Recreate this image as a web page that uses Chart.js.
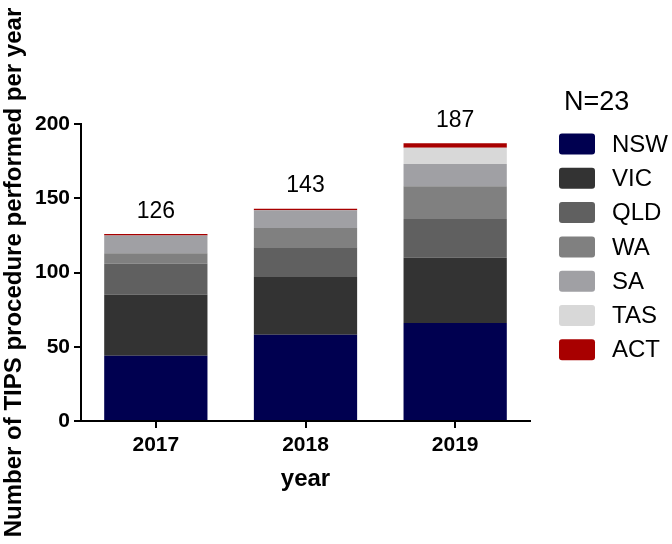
<!DOCTYPE html>
<html>
<head>
<meta charset="utf-8">
<script src="https://cdn.jsdelivr.net/npm/chart.js@4"></script>
<style>
  html, body { margin: 0; padding: 0; background: #fff; }
  #wrap { width: 672px; height: 544px; }
</style>
</head>
<body>
<div id="wrap"><canvas id="tipsChart" width="672" height="544"></canvas></div>
<script>
const years = ["2017", "2018", "2019"];
const states = ["NSW", "VIC", "QLD", "WA", "SA", "TAS", "ACT"];
const nsw = [44, 58, 66];
const vic = [41, 39, 44];
const qld = [21, 20, 26];
const wa = [7, 13, 22];
const sa = [12, 12, 15];
const tas = [0, 0, 11];
const act = [1, 1, 3];
const yTicks = [0, 50, 100, 150, 200];
const legendTitle = "N=23";

const colors = ["#000050", "#333333", "#606060", "#808080", "#a0a0a4", "#d8d8d8", "#a80000"];
const seriesValues = [nsw, vic, qld, wa, sa, tas, act];
const FONT = "'Liberation Sans', Arial, sans-serif";

// totals over the bars + the right hand legend
const extras = {
  id: "extras",
  afterDatasetsDraw(chart) {
    const ctx = chart.ctx;
    const x = chart.scales.x, y = chart.scales.y;
    ctx.save();
    ctx.fillStyle = "#000";
    ctx.font = "23px " + FONT;
    ctx.textAlign = "center";
    ctx.textBaseline = "bottom";
    years.forEach((yr, i) => {
      let total = 0;
      chart.data.datasets.forEach(ds => { total += ds.data[i]; });
      ctx.fillText(String(total), x.getPixelForValue(i), y.getPixelForValue(total) - 11);
    });

    ctx.textAlign = "left";
    ctx.textBaseline = "middle";
    ctx.font = "27px " + FONT;
    ctx.fillText(legendTitle, 564, 103);
    ctx.font = "24px " + FONT;
    chart.data.datasets.forEach((ds, k) => {
      const cy = 144 + k * 34.3;
      ctx.fillStyle = ds.backgroundColor;
      ctx.beginPath();
      ctx.roundRect(559, cy - 10.5, 36, 21, 3);
      ctx.fill();
      ctx.fillStyle = "#000";
      ctx.fillText(ds.label, 612, cy + 1);
    });
    ctx.restore();
  }
};

new Chart(document.getElementById("tipsChart"), {
  type: "bar",
  data: {
    labels: years,
    datasets: states.map((s, k) => ({
      label: s,
      data: seriesValues[k],
      backgroundColor: colors[k],
      borderWidth: 0,
      barPercentage: 0.69,
      categoryPercentage: 1
    }))
  },
  options: {
    responsive: false,
    animation: false,
    layout: { padding: { top: 124, right: 142, bottom: 46, left: 0 } },
    plugins: { legend: { display: false }, tooltip: { enabled: false } },
    scales: {
      x: {
        stacked: true,
        offset: true,
        afterFit: s => { s.height = 77; },
        grid: { offset: false, drawOnChartArea: false, drawTicks: true, tickLength: 7, color: "#000", lineWidth: 2 },
        border: { color: "#000", width: 2 },
        ticks: { color: "#000", padding: 5, font: { family: FONT, size: 21, weight: "bold" } },
        title: { display: true, text: "year", color: "#000", padding: { top: 0, bottom: 4 }, font: { family: FONT, size: 24, weight: "bold" } }
      },
      y: {
        stacked: true,
        min: 0,
        max: 200,
        afterFit: s => { s.width = 81; },
        afterBuildTicks: s => { s.ticks = yTicks.map(v => ({ value: v })); },
        grid: { drawOnChartArea: false, drawTicks: true, tickLength: 7, color: "#000", lineWidth: 2 },
        border: { color: "#000", width: 2 },
        ticks: { color: "#000", padding: 4, font: { family: FONT, size: 21, weight: "bold" } },
        title: { display: true, text: "Number of TIPS procedure performed per year", color: "#000", padding: { top: 0, bottom: 0 }, font: { family: FONT, size: 24, weight: "bold" } }
      }
    }
  },
  plugins: [extras]
});
</script>
</body>
</html>
